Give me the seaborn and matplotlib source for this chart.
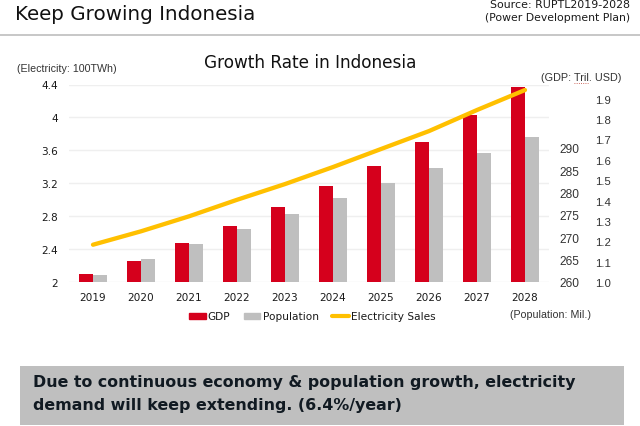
import pandas as pd
import matplotlib.pyplot as plt
from matplotlib.lines import Line2D
from matplotlib.patches import Patch, Rectangle
import seaborn as sns

years = ["2019", "2020", "2021", "2022", "2023", "2024", "2025", "2026", "2027", "2028"]
gdp = [1.04, 1.105, 1.19, 1.275, 1.37, 1.47, 1.57, 1.69, 1.82, 1.956]
population = [261.6, 265.1, 268.5, 271.9, 275.2, 278.8, 282.1, 285.5, 288.9, 292.4]
electricity = [2.453, 2.616, 2.798, 2.999, 3.19, 3.397, 3.616, 3.834, 4.09, 4.333]

left_ticks = [2, 2.4, 2.8, 3.2, 3.6, 4, 4.4]
left_labels = ["2", "2.4", "2.8", "3.2", "3.6", "4", "4.4"]
gdp_ticks = [1.0, 1.1, 1.2, 1.3, 1.4, 1.5, 1.6, 1.7, 1.8, 1.9]
pop_ticks = [260, 265, 270, 275, 280, 285, 290]

RED = "#D5001C"
GRAY = "#BFBFBF"
YELLOW = "#FFC000"
TEXT = "#1a1a1a"
ARIAL = "Liberation Sans"

sns.set_theme(style="white")
plt.rcParams["font.family"] = ["DejaVu Sans"]

W, H = 640, 427
fig = plt.figure(figsize=(W / 100, H / 100), dpi=100)
ax = fig.add_axes([69 / W, 1 - 283 / H, 480 / W, 197.5 / H])

# one axis per scale, same x positions
ax_gdp = ax.twinx()
ax_pop = ax.twinx()
ax_line = ax.twinx()

order = ["GDP", "Population"]
df_gdp = pd.DataFrame({"year": years, "value": gdp, "series": "GDP"})
df_pop = pd.DataFrame({"year": years, "value": population, "series": "Population"})
df_line = pd.DataFrame({"year": years, "value": electricity})

sns.barplot(data=df_gdp, x="year", y="value", hue="series", hue_order=order,
            palette=[RED, GRAY], saturation=1, width=0.58, gap=0, dodge=True,
            linewidth=0, legend=False, ax=ax_gdp)
sns.barplot(data=df_pop, x="year", y="value", hue="series", hue_order=order,
            palette=[RED, GRAY], saturation=1, width=0.58, gap=0, dodge=True,
            linewidth=0, legend=False, ax=ax_pop)
sns.lineplot(data=df_line, x="year", y="value", color=YELLOW, linewidth=3.1, sort=False,
             solid_capstyle="round", legend=False, ax=ax_line)

ax.set_xlim(-0.5, 9.5)
ax.set_ylim(2, 4.4)
ax_line.set_ylim(2, 4.4)
ax_gdp.set_ylim(1.0, 1.97)
ax_pop.set_ylim(260, 304.2)

ax.set_xticks(range(len(years)))
ax.set_xticklabels(years)
ax.set_yticks(left_ticks)
ax.set_yticklabels(left_labels)
ax.tick_params(axis="x", length=0, pad=7.5, labelsize=7.6, labelcolor=TEXT)
ax.tick_params(axis="y", length=0, pad=8, labelsize=7.6, labelcolor=TEXT)

ax_gdp.set_yticks(gdp_ticks)
ax_gdp.set_yticklabels([f"{t:.1f}" for t in gdp_ticks], family=ARIAL)
ax_gdp.tick_params(axis="y", length=0, pad=33, labelsize=8.2, labelcolor="#333333")
ax_pop.set_yticks(pop_ticks)
ax_pop.set_yticklabels([str(t) for t in pop_ticks], family=ARIAL)
ax_pop.tick_params(axis="y", length=0, pad=7.5, labelsize=8.6, labelcolor="#333333")
ax_line.set_yticks([])

for a in [ax, ax_gdp, ax_pop, ax_line]:
    a.set_xlabel("")
    a.set_ylabel("")
    a.grid(False)
    for s in a.spines.values():
        s.set_visible(False)
    if a is not ax:
        a.patch.set_visible(False)
ax.grid(axis="y", color="#EFEFEF", linewidth=1)

# page furniture, in pixels from top left
def px_text(x, y, s, **kw):
    fig.text(x / W, 1 - y / H, s, va="center", **kw)

px_text(15, 15, "Keep Growing Indonesia", fontsize=14.3, color="#111111")
px_text(630, 5.5, "Source: RUPTL2019-2028", ha="right", fontsize=7.9, color=TEXT)
px_text(630, 18, "(Power Development Plan)", ha="right", fontsize=7.85, color=TEXT)
fig.add_artist(Line2D([0, 1], [1 - 35.5 / H] * 2, color="#BDBDBD", linewidth=1.2))

px_text(310, 63, "Growth Rate in Indonesia", ha="center", fontsize=12.2, color="#111111")
px_text(17, 69.5, "(Electricity: 100TWh)", family=ARIAL, fontsize=7.65, color="#333333")
px_text(541, 78, "(GDP: Tril. USD)", family=ARIAL, fontsize=7.85, color="#333333")
px_text(510, 314.5, "(Population: Mil.)", family=ARIAL, fontsize=7.7, color="#333333")
fig.add_artist(Line2D([574 / W, 588 / W], [1 - 84 / H] * 2, color="#C0392B", linewidth=0.6, linestyle=":"))

handles = [Patch(color=RED), Patch(color=GRAY), Line2D([], [], color=YELLOW, linewidth=3)]
fig.legend(handles, ["GDP", "Population", "Electricity Sales"], ncol=3, frameon=False,
           loc="center", bbox_to_anchor=(312 / W, 1 - 317.5 / H), fontsize=7.6,
           handlelength=1.6, handleheight=0.5, handletextpad=0.2, columnspacing=1.25,
           labelcolor=TEXT)

fig.add_artist(Rectangle((20 / W, 1 - 426 / H), 604 / W, 59 / H, transform=fig.transFigure,
                         facecolor=GRAY, edgecolor="none"))
px_text(33, 382.5, "Due to continuous economy & population growth, electricity",
        fontsize=11.47, fontweight="bold", color="#111a22")
px_text(33, 405.5, "demand will keep extending. (6.4%/year)",
        fontsize=11.47, fontweight="bold", color="#111a22")

fig.savefig("out.png", dpi=100)
